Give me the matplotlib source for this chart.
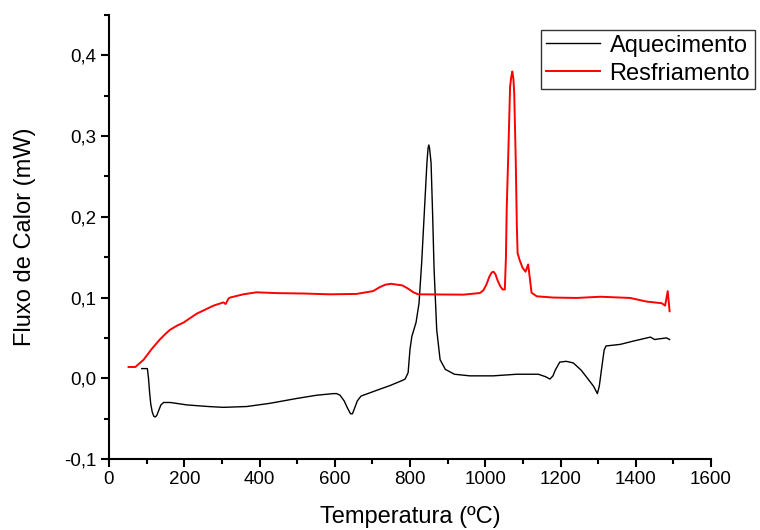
import numpy as np
import matplotlib.pyplot as plt

plt.rcParams['font.family'] = ['Liberation Sans', 'DejaVu Sans']

# Aquecimento (heating) curve
heat_T = [87, 102, 105, 108, 111, 115, 119, 123, 127, 132, 138, 145, 163, 207,
          264, 304, 366, 428, 499, 552, 596, 605, 614, 625, 635, 642, 647, 652,
          660, 670, 676, 711, 747, 778, 787, 795, 800, 805, 816, 824, 831, 838,
          845, 848, 850, 852, 856, 860, 864, 871, 880, 894, 918, 959, 1021, 1084,
          1141, 1160, 1172, 1180, 1186, 1198, 1215, 1234, 1255, 1270, 1288, 1298,
          1303, 1309, 1316, 1321, 1359, 1393, 1439, 1450, 1465, 1482, 1490]
heat_q = [0.012, 0.012, 0.000, -0.018, -0.032, -0.042, -0.047, -0.048, -0.046,
          -0.040, -0.033, -0.030, -0.030, -0.033, -0.035, -0.036, -0.035, -0.031,
          -0.025, -0.021, -0.019, -0.019, -0.021, -0.028, -0.038, -0.044, -0.044,
          -0.038, -0.028, -0.022, -0.021, -0.015, -0.009, -0.003, -0.001, 0.007,
          0.036, 0.052, 0.069, 0.093, 0.143, 0.205, 0.267, 0.285, 0.289, 0.285,
          0.267, 0.205, 0.135, 0.060, 0.023, 0.011, 0.005, 0.003, 0.003, 0.005,
          0.005, 0.002, -0.001, 0.003, 0.010, 0.020, 0.021, 0.019, 0.010, 0.001,
          -0.010, -0.019, -0.010, 0.011, 0.035, 0.040, 0.042, 0.046, 0.051, 0.048,
          0.049, 0.050, 0.048]

# Resfriamento (cooling) curve
cool_T = [52, 70, 92, 113, 135, 150, 162, 180, 198, 233, 278, 304, 310, 318, 322,
          357, 392, 445, 516, 587, 658, 702, 720, 735, 750, 765, 780, 795, 809,
          822, 942, 986, 995, 1003, 1011, 1017, 1022, 1027, 1033, 1040, 1046, 1052,
          1055, 1057, 1062, 1066, 1069, 1072, 1075, 1077, 1081, 1084, 1086, 1091,
          1099, 1107, 1114, 1119, 1123, 1137, 1181, 1243, 1306, 1385, 1429, 1469,
          1478, 1485, 1490]
cool_q = [0.014, 0.014, 0.023, 0.036, 0.048, 0.055, 0.060, 0.065, 0.069, 0.080,
          0.090, 0.094, 0.092, 0.099, 0.100, 0.104, 0.1065, 0.1055, 0.105, 0.104,
          0.1045, 0.108, 0.113, 0.116, 0.117, 0.116, 0.115, 0.111, 0.1065, 0.104,
          0.1036, 0.1056, 0.109, 0.116, 0.126, 0.131, 0.132, 0.129, 0.121, 0.114,
          0.110, 0.110, 0.150, 0.209, 0.291, 0.361, 0.373, 0.380, 0.370, 0.353,
          0.271, 0.188, 0.155, 0.147, 0.137, 0.132, 0.141, 0.122, 0.106, 0.1015,
          0.100, 0.0995, 0.101, 0.0995, 0.095, 0.093, 0.090, 0.108, 0.083]

x_ticks = [0, 200, 400, 600, 800, 1000, 1200, 1400, 1600]
y_ticks = [-0.1, 0.0, 0.1, 0.2, 0.3, 0.4]
y_labels = ['-0,1', '0,0', '0,1', '0,2', '0,3', '0,4']

fig = plt.figure(figsize=(7.6, 5.3), dpi=100)
ax = fig.add_axes([109 / 760, 71 / 530, 602 / 760, 444 / 530])

ax.plot(heat_T, heat_q, color='black', lw=1.0, label='Aquecimento')
ax.plot(cool_T, cool_q, color='red', lw=1.4, label='Resfriamento')

ax.set_xlim(0, 1600)
ax.set_ylim(-0.1, 0.45)
ax.set_xticks(x_ticks)
ax.set_xticklabels([str(t) for t in x_ticks])
ax.set_yticks(y_ticks)
ax.set_yticklabels(y_labels)
ax.set_xticks(np.arange(100, 1600, 200), minor=True)
ax.set_yticks([-0.05, 0.05, 0.15, 0.25, 0.35, 0.45], minor=True)

for side in ['top', 'right']:
    ax.spines[side].set_visible(False)
for side in ['left', 'bottom']:
    ax.spines[side].set_linewidth(1.5)

ax.tick_params(which='major', direction='out', length=6, width=1.5,
               labelsize=13.5, pad=3)
ax.tick_params(which='minor', direction='out', length=3.6, width=1.5)

ax.set_xlabel('Temperatura (ºC)', fontsize=17)
ax.set_ylabel('Fluxo de Calor (mW)', fontsize=17)
ax.xaxis.set_label_coords(0.5, -0.106)
ax.yaxis.set_label_coords(-0.121, 0.5)

leg = fig.legend(loc='upper left', bbox_to_anchor=(541 / 760, 1 - 30 / 530),
                 bbox_transform=fig.transFigure, fontsize=17, frameon=True,
                 fancybox=False, edgecolor='black', borderpad=0.2,
                 labelspacing=0.25, handlelength=2.3, handletextpad=0.4,
                 borderaxespad=0)
leg.get_frame().set_linewidth(1.0)

fig.savefig('out.png', dpi=100)
